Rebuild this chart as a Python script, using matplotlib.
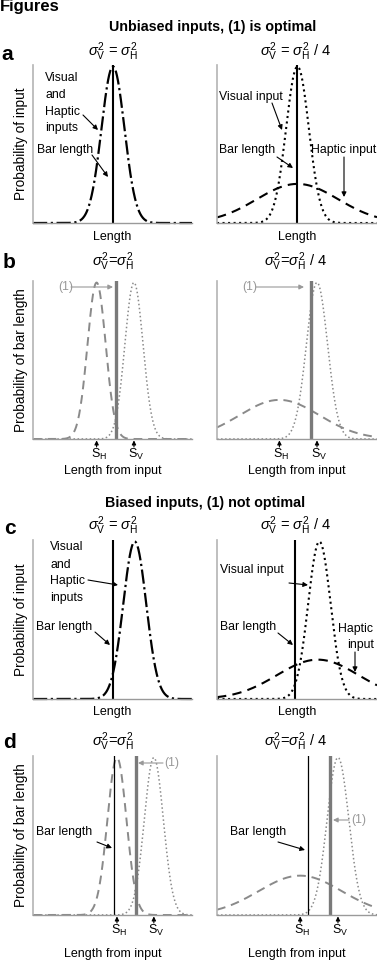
import matplotlib
matplotlib.use('Agg')
import matplotlib.pyplot as plt
import numpy as np

plt.rcParams['font.family'] = ['Liberation Sans', 'DejaVu Sans']
plt.rcParams['mathtext.fontset'] = 'custom'
plt.rcParams['mathtext.rm'] = 'Liberation Sans'
plt.rcParams['mathtext.it'] = 'Liberation Sans:italic'
plt.rcParams['mathtext.bf'] = 'Liberation Sans:bold'

W, H = 377, 960

# ---- data (x as fraction of axis width, heights relative to tallest curve) ----
row_letters = ['a', 'b', 'c', 'd']
row_is_input = [True, False, True, False]   # a, c: inputs ; b, d: bar length
section_titles = ['Unbiased inputs, (1) is optimal', 'Biased inputs, (1) not optimal']
sub_left = r'$\sigma^2_{\rm V}$ = $\sigma^2_{\rm H}$'
sub_left_tight = r'$\sigma^2_{\rm V}$=$\sigma^2_{\rm H}$'
sub_right = r'$\sigma^2_{\rm V}$ = $\sigma^2_{\rm H}$ / 4'
sub_right_tight = r'$\sigma^2_{\rm V}$=$\sigma^2_{\rm H}$ / 4'

# [row][col]
visual_mu = [[0.503, 0.503], [0.635, 0.625], [0.64, 0.64], [0.76, 0.756]]
visual_sd = [[0.072, 0.071], [0.057, 0.066], [0.072, 0.07], [0.06, 0.068]]
visual_peak = [[1.0, 1.0], [1.0, 1.0], [1.0, 1.0], [1.0, 1.0]]
haptic_mu = [[0.503, 0.503], [0.40, 0.39], [0.64, 0.63], [0.528, 0.52]]
haptic_sd = [[0.072, 0.255], [0.057, 0.25], [0.072, 0.255], [0.06, 0.26]]
haptic_peak = [[1.0, 0.25], [1.0, 0.25], [1.0, 0.25], [1.0, 0.25]]
bar_x = [[0.503, 0.50], [None, None], [0.503, 0.49], [0.51, 0.57]]
combined_x = [[None, None], [0.52, 0.59], [None, None], [0.648, 0.706]]

# ---- layout (pixels) ----
col_left = [33, 217]
col_width = [159, 160]
row_top = [65, 281, 540, 756]
row_bot = [223, 439, 699, 915]


def fx(x):
    return x / W


def fy(y):
    return 1 - y / H


GRAY = '#8a8a8a'
fig = plt.figure(figsize=(W / 100, H / 100), dpi=100)

xs = np.linspace(0, 1, 600)


def bump(mu, sd, peak):
    return peak * np.exp(-0.5 * ((xs - mu) / sd) ** 2)


axes = {}
for r in range(4):
    for c in range(2):
        ax = fig.add_axes([fx(col_left[c]), fy(row_bot[r]), col_width[c] / W,
                           (row_bot[r] - row_top[r]) / H])
        axes[(r, c)] = ax
        ax.set_xlim(0, 1)
        ax.set_ylim(0, 1.01)
        ax.set_xticks([])
        ax.set_yticks([])
        for s in ['top', 'right']:
            ax.spines[s].set_visible(False)
        ax.spines['left'].set_color('#b4b4b4')
        ax.spines['left'].set_linewidth(1.2)
        ax.spines['bottom'].set_color('#9a9a9a')
        ax.spines['bottom'].set_linewidth(1.0)

        vis = bump(visual_mu[r][c], visual_sd[r][c], visual_peak[r][c])
        hap = bump(haptic_mu[r][c], haptic_sd[r][c], haptic_peak[r][c])
        if row_is_input[r]:
            if c == 0:
                ax.plot(xs, vis, color='k', lw=1.6, ls='-.', clip_on=False)
            else:
                ax.plot(xs, vis, color='k', lw=1.5, ls=':', clip_on=False)
                ax.plot(xs, hap, color='k', lw=1.5, ls=(0, (4.5, 3)), clip_on=False)
            ax.axvline(bar_x[r][c], color='k', lw=1.5)
        else:
            ax.plot(xs, hap, color=GRAY, lw=1.4, ls=(0, (4.5, 3)), clip_on=False)
            ax.plot(xs, vis, color=GRAY, lw=1.1, ls=':', clip_on=False)
            ax.axvline(combined_x[r][c], color='#7a7a7a', lw=2.4)
            if bar_x[r][c] is not None:
                ax.axvline(bar_x[r][c], color='k', lw=0.9)
            # S_H and S_V markers under the axis
            for mu, lab in [(haptic_mu[r][c], r'S$_{\rm H}$'), (visual_mu[r][c], r'S$_{\rm V}$')]:
                ax.annotate('', xy=(mu, 0), xycoords='data',
                            xytext=(0, -8), textcoords='offset pixels',
                            arrowprops=dict(arrowstyle='-|>', color='k', lw=0.8,
                                            mutation_scale=6, shrinkA=0, shrinkB=1))
                ax.annotate(lab, xy=(mu, 0), xycoords='data', xytext=(2, -8),
                            textcoords='offset pixels', ha='center', va='top',
                            fontsize=9, annotation_clip=False)

        # x / y labels
        xlab = 'Length' if row_is_input[r] else 'Length from input'
        xl_y = [237, 471, 712, 954][r]
        fig.text(fx(col_left[c] + col_width[c] / 2), fy(xl_y), xlab, ha='center',
                 va='center', fontsize=9)
    ylab = 'Probability of input' if row_is_input[r] else 'Probability of bar length'
    fig.text(fx(21), fy((row_top[r] + row_bot[r]) / 2), ylab, rotation=90,
             ha='center', va='center', fontsize=9.8)

# ---- headings ----
fig.text(0, fy(11), 'Figures', fontsize=12, fontweight='bold', ha='left', va='baseline')
fig.text(fx(213), fy(27), section_titles[0], fontsize=10.3, fontweight='bold',
         ha='center', va='center')
fig.text(fx(205), fy(503), section_titles[1], fontsize=10.3, fontweight='bold',
         ha='center', va='center')

letter_pos = [(1, 55), (3, 262), (4, 528), (3, 742)]
sub_y = [52, 262, 526, 742]
for r in range(4):
    fig.text(fx(letter_pos[r][0]), fy(letter_pos[r][1]), row_letters[r], fontsize=15,
             fontweight='bold', ha='left', va='center')
    left_txt = sub_left if row_is_input[r] else sub_left_tight
    right_txt = sub_right if row_is_input[r] else sub_right_tight
    fig.text(fx(113), fy(sub_y[r]), left_txt, fontsize=10.5, ha='center', va='center')
    fig.text(fx(296), fy(sub_y[r]), right_txt, fontsize=10.5, ha='center', va='center')

# ---- annotations ----
FS = 8.8


def label(x, y, s, color='k', ha='left'):
    fig.text(fx(x), fy(y), s, fontsize=FS, color=color, ha=ha, va='center')


def arrow(x0, y0, x1, y1, color='k'):
    fig.add_artist(matplotlib.patches.FancyArrowPatch(
        (fx(x0), fy(y0)), (fx(x1), fy(y1)), transform=fig.transFigure,
        arrowstyle='-|>', mutation_scale=7, lw=0.8, color=color,
        shrinkA=0, shrinkB=0))


# a
for yy, s in zip([78, 95, 112, 128], ['Visual', 'and', 'Haptic', 'inputs']):
    label(45, yy, s)
arrow(83, 115, 98, 130)
label(37, 150, 'Bar length')
arrow(92, 155, 108, 177)
label(219, 97, 'Visual input')
arrow(272, 103, 282, 130)
label(219, 150, 'Bar length')
arrow(277, 157, 293, 168)
label(376, 150, 'Haptic input', ha='right')
arrow(344, 157, 344, 197)

# b
label(58, 287, '(1)', color='#999999')
arrow(71, 287, 113, 287, color='#999999')
label(242, 287, '(1)', color='#999999')
arrow(256, 287, 304, 287, color='#999999')

# c
for yy, s in zip([547, 565, 581, 598], ['Visual', 'and', 'Haptic', 'inputs']):
    label(50, yy, s)
arrow(88, 580, 118, 585)
label(36, 627, 'Bar length')
arrow(95, 632, 110, 645)
label(220, 570, 'Visual input')
arrow(289, 583, 308, 585)
label(220, 627, 'Bar length')
arrow(278, 633, 293, 645)
label(338, 629, 'Haptic')
label(374, 645, 'input', ha='right')
arrow(355, 652, 355, 672)

# d
label(164, 763, '(1)', color='#999999')
arrow(163, 763, 138, 763, color='#999999')
label(36, 832, 'Bar length')
arrow(97, 842, 112, 848)
label(351, 820, '(1)', color='#999999')
arrow(349, 820, 333, 820, color='#999999')
label(230, 832, 'Bar length')
arrow(278, 842, 305, 850)

fig.savefig('out.png', dpi=100)
